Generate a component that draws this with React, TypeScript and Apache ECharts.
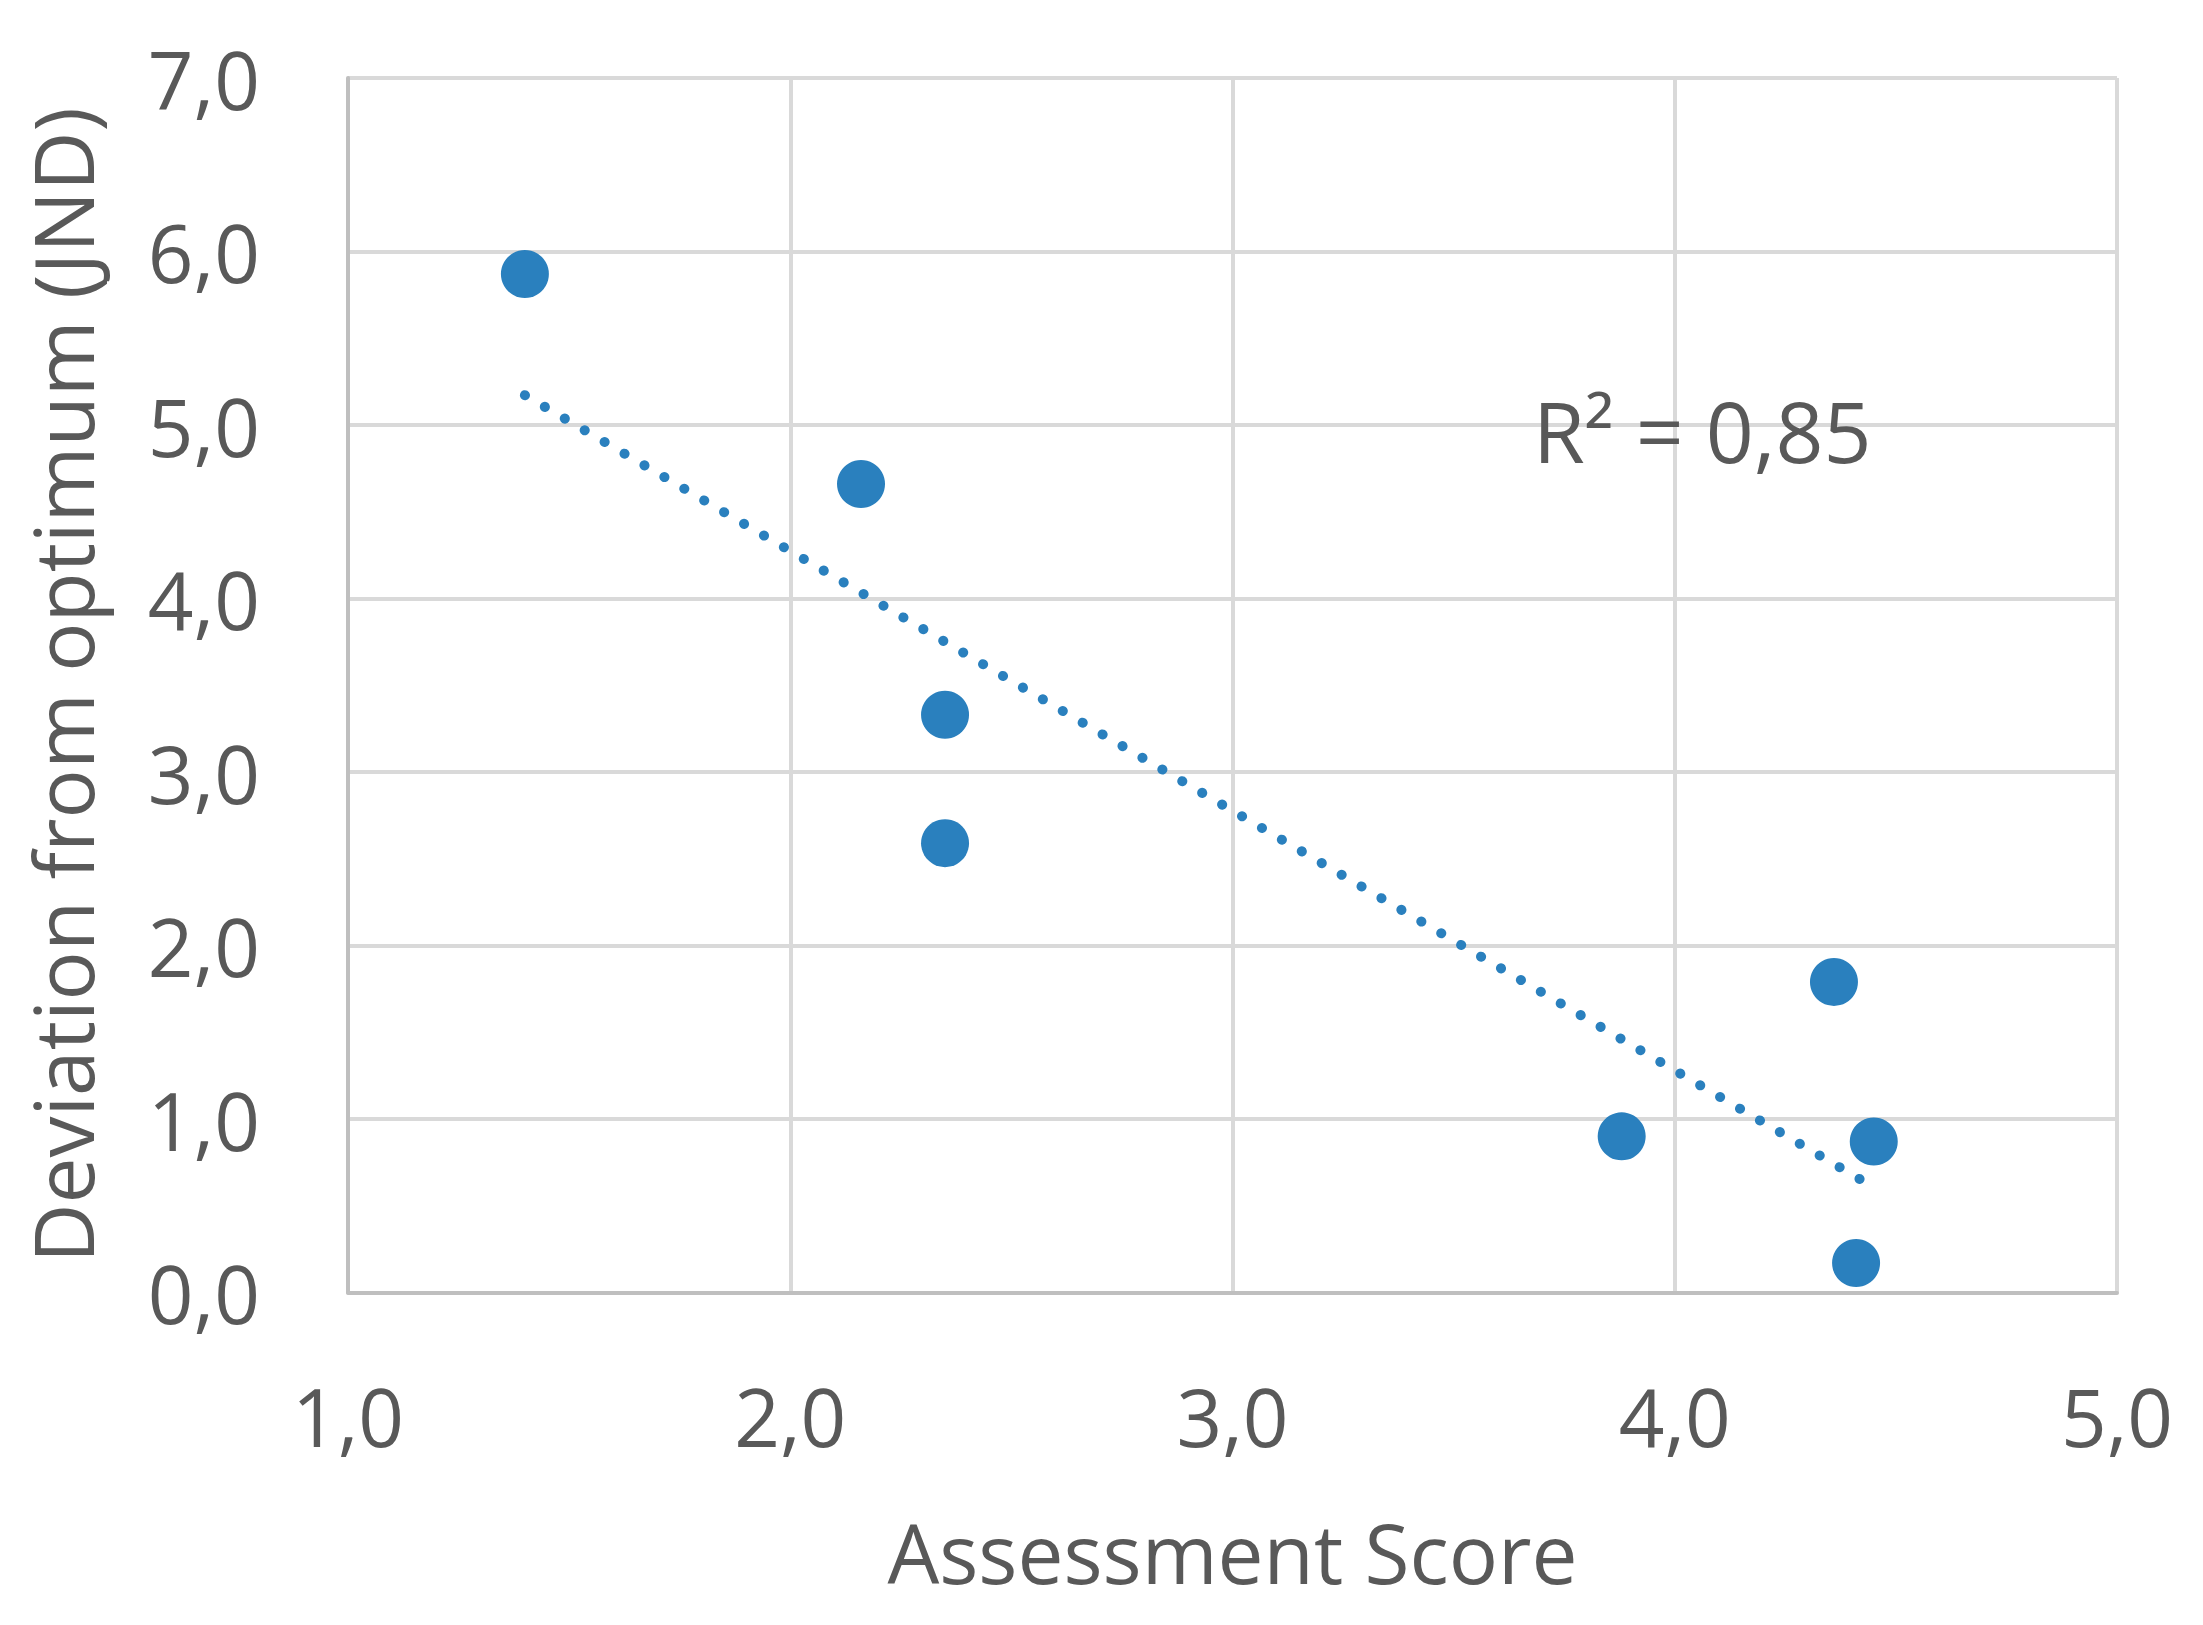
import React, { useEffect, useRef } from "react";
import * as echarts from "echarts";

const xValues = [1.4, 2.16, 2.35, 2.35, 3.88, 4.36, 4.41, 4.45];
const yValues = [5.87, 4.66, 3.33, 2.59, 0.9, 1.79, 0.17, 0.87];
const xTitle = "Assessment Score";
const yTitle = "Deviation from optimum (JND)";
const r2Label = "R² = 0,85";

const FONT = "'Open Sans', 'Noto Sans', sans-serif";
const TEXT = "#595959";
const BLUE = "#2A80BE";

function linearFit(xs: number[], ys: number[]) {
  const n = xs.length;
  const mx = xs.reduce((a, b) => a + b, 0) / n;
  const my = ys.reduce((a, b) => a + b, 0) / n;
  let sxy = 0;
  let sxx = 0;
  for (let i = 0; i < n; i++) {
    sxy += (xs[i] - mx) * (ys[i] - my);
    sxx += (xs[i] - mx) * (xs[i] - mx);
  }
  const slope = sxy / sxx;
  return { slope, intercept: my - slope * mx };
}

const fmt = (v: number) => v.toFixed(1).replace(".", ",");

export default function App() {
  const ref = useRef<HTMLDivElement>(null);
  useEffect(() => {
    if (!ref.current) return;
    const chart = echarts.init(ref.current, null, { renderer: "svg" });
    const fit = linearFit(xValues, yValues);
    const xmin = Math.min(...xValues);
    const xmax = Math.max(...xValues);
    const trend = [
      [xmin, fit.intercept + fit.slope * xmin],
      [xmax, fit.intercept + fit.slope * xmax],
    ];
    chart.setOption({
      animation: false,
      backgroundColor: "#ffffff",
      grid: { left: 348, top: 78, width: 1769, height: 1214.5, containLabel: false },
      xAxis: {
        type: "value",
        min: 1,
        max: 5,
        interval: 1,
        name: xTitle,
        nameLocation: "middle",
        nameGap: 218,
        nameTextStyle: { fontFamily: FONT, fontSize: 82, color: TEXT },
        axisLine: { show: true, lineStyle: { color: "#BFBFBF", width: 4 } },
        axisTick: { show: false },
        axisLabel: { formatter: fmt, fontFamily: FONT, fontSize: 80, color: TEXT, margin: 83 },
        splitLine: { show: true, lineStyle: { color: "#D9D9D9", width: 4 } },
      },
      yAxis: {
        type: "value",
        min: 0,
        max: 7,
        interval: 1,
        name: yTitle,
        nameLocation: "middle",
        nameRotate: 90,
        nameGap: 245,
        nameTextStyle: { fontFamily: FONT, fontSize: 82, color: TEXT },
        axisLine: { show: true, lineStyle: { color: "#BFBFBF", width: 4 } },
        axisTick: { show: false },
        axisLabel: { formatter: fmt, fontFamily: FONT, fontSize: 80, color: TEXT, margin: 88 },
        splitLine: { show: true, lineStyle: { color: "#D9D9D9", width: 4 } },
      },
      series: [
        {
          type: "line",
          data: trend,
          symbol: "none",
          silent: true,
          z: 3,
          lineStyle: { color: BLUE, width: 10, type: [0.1, 23], cap: "round", opacity: 1 },
        },
        {
          type: "scatter",
          data: xValues.map((x, i) => [x, yValues[i]]),
          symbol: "circle",
          symbolSize: 48,
          z: 4,
          itemStyle: { color: BLUE, opacity: 1 },
        },
      ],
      graphic: [
        {
          type: "text",
          left: 1533,
          top: 388,
          z: 100,
          style: { text: r2Label, fontFamily: FONT, fontSize: 84, fill: TEXT },
        },
      ],
    });
    return () => chart.dispose();
  }, []);
  return (
    <div
      ref={ref}
      style={{ position: "absolute", left: 0, top: 0, width: 2203, height: 1625 }}
    />
  );
}
